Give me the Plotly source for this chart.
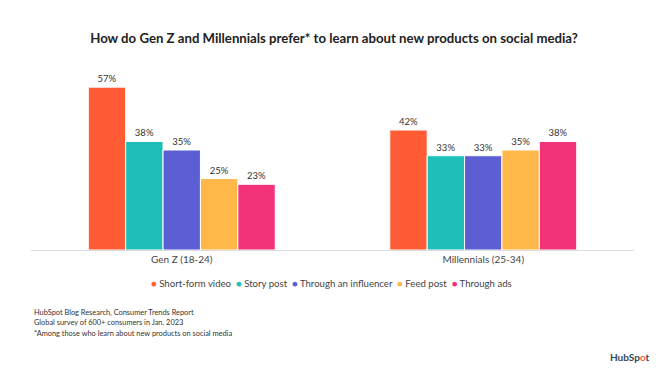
import plotly.graph_objects as go

categories = ["Gen Z (18-24)", "Millennials (25-34)"]
series_names = ["Short-form video", "Story post", "Through an influencer", "Feed post", "Through ads"]
values = {
    "Short-form video": [57, 42],
    "Story post": [38, 33],
    "Through an influencer": [35, 33],
    "Feed post": [25, 35],
    "Through ads": [23, 38],
}
colors = ["#FF5C35", "#1DBFB8", "#5B5FD3", "#FFB74A", "#F2337A"]
footnotes = [
    "HubSpot Blog Research, Consumer Trends Report",
    "Global survey of 600+ consumers in Jan. 2023",
    "*Among those who learn about new products on social media",
]

FONT = "Lato, 'Open Sans', sans-serif"
OFF = 8  # page body margin offset
L, T, W, H = 31 - OFF, 70 - OFF, 603, 180
BASE = T + H


def py(y_screen):
    return (BASE - (y_screen - OFF)) / H


def px(x_screen):
    return ((x_screen - OFF) - L) / W


fig = go.Figure()
for name, col in zip(series_names, colors):
    v = values[name]
    fig.add_trace(go.Bar(
        x=categories, y=v, name=name, marker=dict(color=col, line=dict(color="white", width=1)),
        text=[f"{x}%" for x in v], textposition="outside", cliponaxis=False,
        textfont=dict(size=9.5, color="#333333", family=FONT), showlegend=False,
    ))

fig.update_layout(
    width=666, height=374,
    paper_bgcolor="white", plot_bgcolor="white",
    margin=dict(l=L, r=666 - L - W, t=T, b=374 - T - H),
    barmode="group", bargap=0.38, bargroupgap=0,
    font=dict(family=FONT, color="#333333"),
    showlegend=False,
    title=dict(text="<b>How do Gen Z and Millennials prefer* to learn about new products on social media?</b>",
               x=px(334) * W / 666 + L / 666, xanchor="center", y=1 - (38 - OFF) / 374, yanchor="middle",
               font=dict(size=13.2, color="#222222", family=FONT)),
    xaxis=dict(showline=True, linecolor="#DDDDDD", linewidth=1, ticks="",
               tickfont=dict(size=10, color="#444444", family=FONT), showgrid=False),
    yaxis=dict(range=[0, 63], visible=False, showgrid=False),
)

# legend drawn as one centred line of coloured dots and names
legend_text = "  ".join(
    f"<span style='color:{c}'>●</span> {n}" for n, c in zip(series_names, colors)
)
fig.add_annotation(
    text=legend_text, xref="paper", yref="paper", x=px(331), y=py(283),
    xanchor="center", yanchor="middle", showarrow=False,
    font=dict(size=9.6, color="#444444", family=FONT),
)

for i, line in enumerate(footnotes):
    fig.add_annotation(
        text=line, xref="paper", yref="paper", x=px(32),
        y=py(312 + 10.5 * i), xanchor="left", yanchor="middle",
        showarrow=False, font=dict(size=7.4, color="#333333", family=FONT),
    )

fig.add_annotation(
    text="<b>HubSp<span style='color:#FF5C35'>o</span>t</b>",
    xref="paper", yref="paper", x=px(652), y=py(357),
    xanchor="right", yanchor="middle",
    showarrow=False, font=dict(size=10, color="#33475B", family=FONT),
)

fig.write_html("out.html")
